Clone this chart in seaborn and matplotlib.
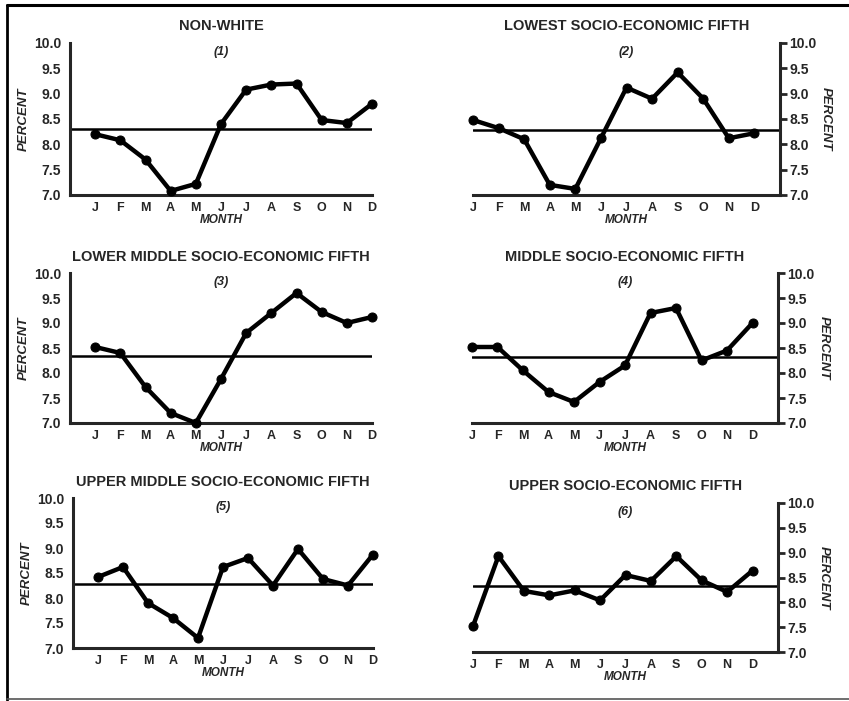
import numpy as np
import pandas as pd
import seaborn as sns
import matplotlib
matplotlib.use("Agg")
import matplotlib.pyplot as plt
from matplotlib.lines import Line2D

months = ["J", "F", "M", "A", "M", "J", "J", "A", "S", "O", "N", "D"]

titles = [
    "NON-WHITE",
    "LOWEST SOCIO-ECONOMIC FIFTH",
    "LOWER MIDDLE SOCIO-ECONOMIC FIFTH",
    "MIDDLE SOCIO-ECONOMIC FIFTH",
    "UPPER MIDDLE SOCIO-ECONOMIC FIFTH",
    "UPPER SOCIO-ECONOMIC FIFTH",
]
numbers = ["(1)", "(2)", "(3)", "(4)", "(5)", "(6)"]

non_white = [8.2, 8.08, 7.7, 7.08, 7.22, 8.4, 9.08, 9.18, 9.2, 8.48, 8.42, 8.8]
lowest = [8.48, 8.32, 8.1, 7.2, 7.12, 8.12, 9.12, 8.9, 9.42, 8.9, 8.12, 8.22]
lower_middle = [8.52, 8.4, 7.72, 7.2, 7.0, 7.88, 8.8, 9.2, 9.6, 9.22, 9.0, 9.12]
middle = [8.52, 8.52, 8.05, 7.62, 7.42, 7.82, 8.15, 9.2, 9.3, 8.25, 8.45, 9.0]
upper_middle = [8.42, 8.62, 7.9, 7.6, 7.2, 8.62, 8.8, 8.25, 8.98, 8.38, 8.25, 8.87]
upper = [7.52, 8.93, 8.23, 8.14, 8.24, 8.04, 8.55, 8.43, 8.93, 8.44, 8.21, 8.64]
means = [8.3, 8.28, 8.33, 8.32, 8.28, 8.33]

series = [non_white, lowest, lower_middle, middle, upper_middle, upper]

W, H = 849, 701
# axes boxes in pixels: x0, x1, y0 (top), y1 (bottom)
boxes = [
    (70, 372, 43, 195),
    (473, 780, 43, 195),
    (70, 372, 273, 423),
    (472, 778, 273, 423),
    (73, 373, 498, 648),
    (473, 778, 503, 652),
]

sns.set_style("white")
plt.rcParams["font.family"] = ["Liberation Sans", "DejaVu Sans"]

fig = plt.figure(figsize=(W / 100, H / 100), dpi=100)

for i, (vals, box) in enumerate(zip(series, boxes)):
    x0, x1, y0, y1 = box
    ax = fig.add_axes([x0 / W, 1 - y1 / H, (x1 - x0) / W, (y1 - y0) / H])
    right = i % 2 == 1
    df = pd.DataFrame({"pos": np.arange(12), "pct": vals})

    ax.axhline(means[i], color="black", lw=1.8, zorder=2)
    sns.lineplot(data=df, x="pos", y="pct", ax=ax, color="black", lw=3.2,
                 marker="o", markersize=6.5, markeredgecolor="black",
                 clip_on=False, zorder=3)

    ax.set_ylim(7.0, 10.0)
    if right:
        ax.set_xlim(0, 12)
    else:
        ax.set_xlim(-1, 11)
    ax.set_xticks(np.arange(12))
    ax.set_xticklabels(months, fontsize=9, fontweight="bold")
    ax.set_yticks(np.arange(7.0, 10.01, 0.5))
    ax.set_yticklabels([f"{v:.1f}" for v in np.arange(7.0, 10.01, 0.5)],
                       fontsize=10, fontweight="bold")
    ax.tick_params(axis="x", length=0, pad=5)
    ax.tick_params(axis="y", length=5, width=2, pad=1.5)
    ax.set_xlabel("MONTH", fontsize=8.5, fontweight="bold", style="italic",
                  labelpad=0)

    for s in ["top", "left", "right", "bottom"]:
        ax.spines[s].set_visible(False)
    ax.spines["bottom"].set_visible(True)
    ax.spines["bottom"].set_linewidth(2.2)
    if right:
        ax.spines["right"].set_visible(True)
        ax.spines["right"].set_linewidth(2.2)
        ax.yaxis.tick_right()
        ax.yaxis.set_label_position("right")
        ax.set_ylabel("PERCENT", fontsize=9.5, fontweight="bold",
                      style="italic", rotation=270, labelpad=11)
    else:
        ax.spines["left"].set_visible(True)
        ax.spines["left"].set_linewidth(2.2)
        ax.set_ylabel("PERCENT", fontsize=9.5, fontweight="bold",
                      style="italic", labelpad=3)

    ax.set_title(titles[i], fontsize=10.5, fontweight="bold", pad=9)
    ax.text(0.5, 0.94, numbers[i], transform=ax.transAxes, ha="center",
            va="center", fontsize=9, fontweight="bold", style="italic")
    ax.set_facecolor("none")

# outer frame of the printed figure
fig.add_artist(Line2D([7 / W, 7 / W], [1 - 5 / H, 1 - 700 / H],
                      transform=fig.transFigure, color="black", lw=2))
fig.add_artist(Line2D([7 / W, 1], [1 - 5 / H, 1 - 5 / H],
                      transform=fig.transFigure, color="black", lw=2.2))
fig.add_artist(Line2D([7 / W, 1], [1 - 699 / H, 1 - 699 / H],
                      transform=fig.transFigure, color="#555555", lw=1.2))

fig.savefig("out.png", dpi=100)
